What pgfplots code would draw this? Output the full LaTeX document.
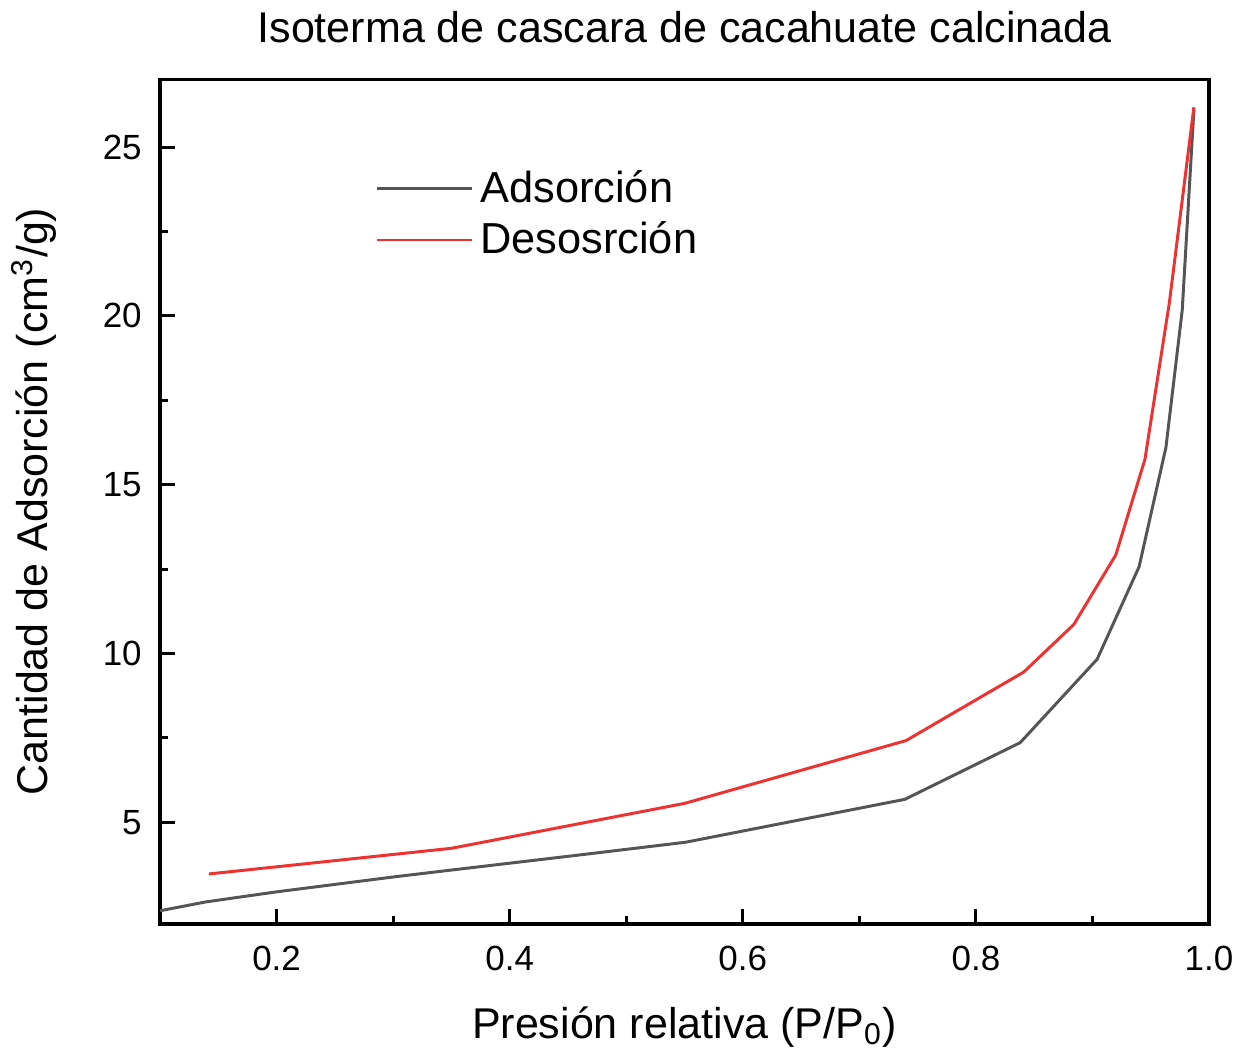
\documentclass[border=0pt]{standalone}
\usepackage{pgfplots}
\pgfplotsset{compat=1.18}
\usepackage{fontspec}
\setmainfont{Liberation Sans}
\definecolor{adsgray}{RGB}{85,85,85}
\definecolor{desred}{RGB}{238,50,50}

\begin{document}
\begin{tikzpicture}
\begin{axis}[
  scale only axis,
  width=10.54cm, height=8.48cm,
  xmin=0.1, xmax=1.0,
  ymin=2, ymax=27,
  xtick={0.2,0.4,0.6,0.8,1.0},
  ytick={5,10,15,20,25},
  minor x tick num=1,
  minor y tick num=1,
  tick align=inside,
  xtick pos=bottom, ytick pos=left,
  major tick length=1.5mm, minor tick length=0.8mm,
  tick style={black, line width=0.9pt},
  axis line style={line width=1.1pt},
  /pgf/number format/assume math mode=true,
  xticklabel style={yshift=-1mm, /pgf/number format/.cd, fixed, fixed zerofill, precision=1},
  yticklabel style={xshift=-0.6mm},
  tick label style={font=\fontsize{10}{12}\selectfont},
  label style={font=\fontsize{12.3}{14}\selectfont},
  xlabel={Presión relativa (P/P\textsubscript{0})},
  ylabel={Cantidad de Adsorción (cm\textsuperscript{3}/g)},
  title={Isoterma de cascara de cacahuate calcinada},
  title style={font=\fontsize{12.3}{14}\selectfont, yshift=0.3mm},
  xlabel style={yshift=-1.2mm},
  ylabel style={yshift=2.2mm},
  legend style={at={(0.195,0.91)}, anchor=north west, draw=none, fill=none,
                font=\fontsize{12.4}{14}\selectfont, row sep=0mm,
                cells={anchor=west}},
  legend image code/.code={\draw[#1] (0cm,0cm) -- (0.95cm,0cm);},
]
\addplot[color=adsgray, line width=0.85pt] coordinates {
  (0.100,2.38) (0.139,2.64) (0.200,2.94) (0.300,3.38) (0.351,3.59)
  (0.452,4.00) (0.551,4.41) (0.739,5.68) (0.838,7.36) (0.904,9.83)
  (0.940,12.57) (0.963,16.10) (0.977,20.17) (0.987,26.10)};
\addlegendentry{Adsorción}
\addplot[color=desred, line width=0.85pt] coordinates {
  (0.142,3.47) (0.350,4.23) (0.550,5.56) (0.740,7.42) (0.841,9.45)
  (0.884,10.86) (0.920,12.92) (0.945,15.75) (0.966,20.40) (0.987,26.18)};
\addlegendentry{Desosrción}
\end{axis}
\end{tikzpicture}
\end{document}
